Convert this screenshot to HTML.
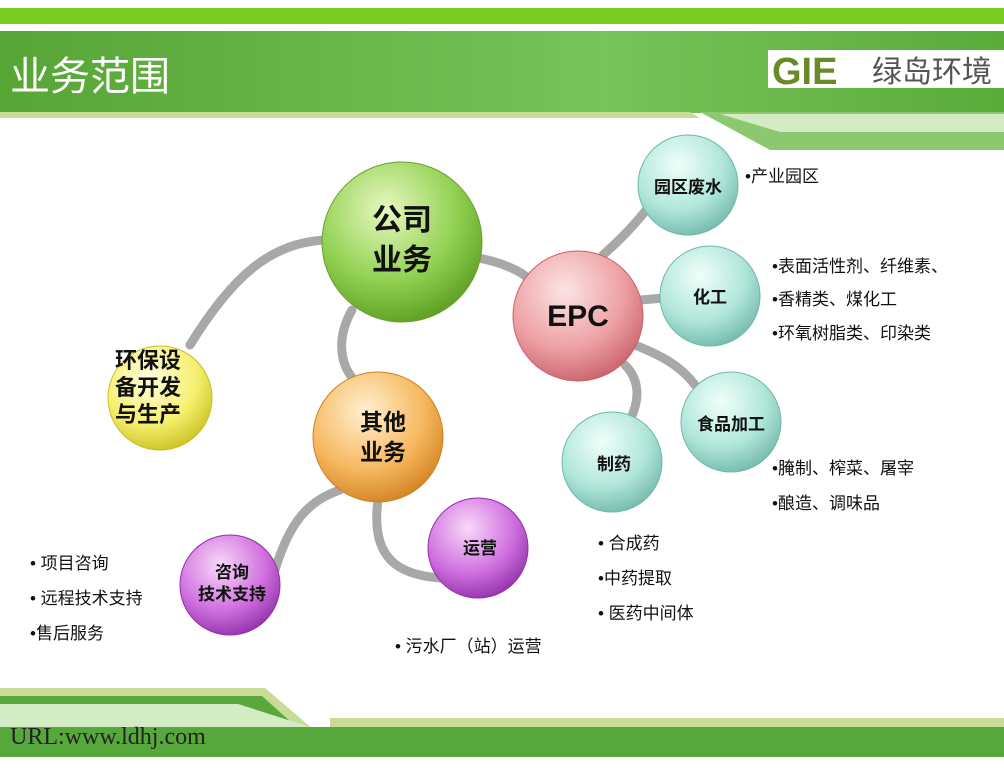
<!DOCTYPE html>
<html><head><meta charset="utf-8"><style>
body{margin:0;width:1004px;height:768px;overflow:hidden;background:#fff}
text{font-family:"Liberation Sans","Noto Sans CJK SC",sans-serif}
text.serif{font-family:"Liberation Serif","Noto Serif CJK SC",serif}
</style></head><body>
<svg width="1004" height="768" xmlns="http://www.w3.org/2000/svg">
<defs>
<linearGradient id="hb" x1="0" x2="1"><stop offset="0" stop-color="#56a535"/><stop offset="0.6" stop-color="#78c35a"/><stop offset="1" stop-color="#5aab3a"/></linearGradient>
<radialGradient id="g" cx="0.4" cy="0.3" r="0.75"><stop offset="0" stop-color="#e8f8c0"/><stop offset="0.6" stop-color="#90d050"/><stop offset="1" stop-color="#5a9a20"/></radialGradient>
<radialGradient id="p" cx="0.4" cy="0.3" r="0.75"><stop offset="0" stop-color="#fce4e4"/><stop offset="0.6" stop-color="#eda0a4"/><stop offset="1" stop-color="#c86068"/></radialGradient>
<radialGradient id="y" cx="0.4" cy="0.3" r="0.75"><stop offset="0" stop-color="#fffde0"/><stop offset="0.6" stop-color="#f6f070"/><stop offset="1" stop-color="#c8c020"/></radialGradient>
<radialGradient id="o" cx="0.4" cy="0.3" r="0.75"><stop offset="0" stop-color="#fff0d0"/><stop offset="0.6" stop-color="#f6b860"/><stop offset="1" stop-color="#d08020"/></radialGradient>
<radialGradient id="v" cx="0.4" cy="0.3" r="0.75"><stop offset="0" stop-color="#f8d8f8"/><stop offset="0.6" stop-color="#d070e0"/><stop offset="1" stop-color="#9030a8"/></radialGradient>
<radialGradient id="t" cx="0.4" cy="0.3" r="0.75"><stop offset="0" stop-color="#f0fffa"/><stop offset="0.6" stop-color="#b0e6da"/><stop offset="1" stop-color="#70b8a8"/></radialGradient>
</defs>
<rect x="0" y="8" width="1004" height="16" fill="#77cc22"/>
<rect x="0" y="31" width="1004" height="82" fill="url(#hb)"/>
<polygon points="0,112 690,112 700,118 0,118" fill="#c8dc98"/>
<polygon points="700,112 1004,112 1004,150 770,150" fill="#8cc870"/>
<polygon points="720,114 1004,114 1004,132 780,132" fill="#d4ecc4"/>
<text x="10" y="90" font-size="40" fill="#fff">业务范围</text>
<rect x="768" y="50" width="236" height="38" fill="#fff"/>
<text x="772" y="84" font-size="38" font-weight="bold" fill="#6a8a28">GIE</text>
<text x="872" y="82" font-size="30" fill="#555">绿岛环境</text>
<polygon points="0,688 265,688 340,752 0,752" fill="#c8dc98"/>
<polygon points="0,696 262,696 330,757 0,757" fill="#5aa83c"/>
<polygon points="0,704 238,704 310,727 0,727" fill="#d4ecc4"/>
<rect x="330" y="718" width="674" height="9" fill="#c8dc98"/>
<rect x="0" y="727" width="1004" height="30" fill="#56a83c"/>
<text class="serif" x="10" y="744" font-size="24" fill="#222">URL:www.ldhj.com</text>
<g stroke="#a8a8a8" stroke-width="9" fill="none" stroke-linecap="round">
<path d="M190,345 C230,280 270,240 330,240"/>
<path d="M478,258 C500,262 520,270 530,280"/>
<path d="M352,310 C335,340 340,370 360,385"/>
<path d="M275,570 C290,520 310,500 340,490"/>
<path d="M378,500 C370,560 400,575 440,578"/>
<path d="M603,255 C620,240 635,225 650,205"/>
<path d="M640,300 L665,298"/>
<path d="M635,345 C660,355 680,365 695,385"/>
<path d="M625,365 C640,380 640,400 630,420"/>
</g>
<g>
<circle cx="402" cy="242" r="80" fill="url(#g)" stroke="#6aa030"/>
<circle cx="578" cy="316" r="65" fill="url(#p)" stroke="#c86068"/>
<circle cx="160" cy="398" r="52" fill="url(#y)" stroke="#c8c020"/>
<circle cx="378" cy="437" r="65" fill="url(#o)" stroke="#d08020"/>
<circle cx="230" cy="585" r="50" fill="url(#v)" stroke="#9030a8"/>
<circle cx="478" cy="548" r="50" fill="url(#v)" stroke="#9030a8"/>
<circle cx="688" cy="185" r="50" fill="url(#t)" stroke="#70b8a8"/>
<circle cx="710" cy="296" r="50" fill="url(#t)" stroke="#70b8a8"/>
<circle cx="731" cy="422" r="50" fill="url(#t)" stroke="#70b8a8"/>
<circle cx="612" cy="462" r="50" fill="url(#t)" stroke="#70b8a8"/>
</g>
<g fill="#111" text-anchor="middle">
<text x="402" y="230" font-size="30" font-weight="bold">公司</text>
<text x="402" y="270" font-size="30" font-weight="bold">业务</text>
<text x="578" y="326" font-size="30" font-weight="bold">EPC</text>
<text x="148" y="368" font-size="22" font-weight="bold">环保设</text>
<text x="148" y="395" font-size="22" font-weight="bold">备开发</text>
<text x="148" y="422" font-size="22" font-weight="bold">与生产</text>
<text x="383" y="430" font-size="23" font-weight="bold">其他</text>
<text x="383" y="460" font-size="23" font-weight="bold">业务</text>
<text x="232" y="578" font-size="17" font-weight="bold">咨询</text>
<text x="232" y="600" font-size="17" font-weight="bold">技术支持</text>
<text x="480" y="554" font-size="17" font-weight="bold">运营</text>
<text x="688" y="193" font-size="17" font-weight="bold">园区废水</text>
<text x="710" y="303" font-size="17" font-weight="bold">化工</text>
<text x="731" y="430" font-size="17" font-weight="bold">食品加工</text>
<text x="614" y="470" font-size="17" font-weight="bold">制药</text>
</g>
<g fill="#111" font-size="17">
<text x="745" y="182">•产业园区</text>
<text x="772" y="272">•表面活性剂、纤维素、</text>
<text x="772" y="305">•香精类、煤化工</text>
<text x="772" y="339">•环氧树脂类、印染类</text>
<text x="772" y="474">•腌制、榨菜、屠宰</text>
<text x="772" y="509">•酿造、调味品</text>
<text x="598" y="549">• 合成药</text>
<text x="598" y="584">•中药提取</text>
<text x="598" y="619">• 医药中间体</text>
<text x="30" y="569">• 项目咨询</text>
<text x="30" y="604">• 远程技术支持</text>
<text x="30" y="639">•售后服务</text>
<text x="395" y="652">• 污水厂（站）运营</text>
</g>
</svg>
</body></html>
